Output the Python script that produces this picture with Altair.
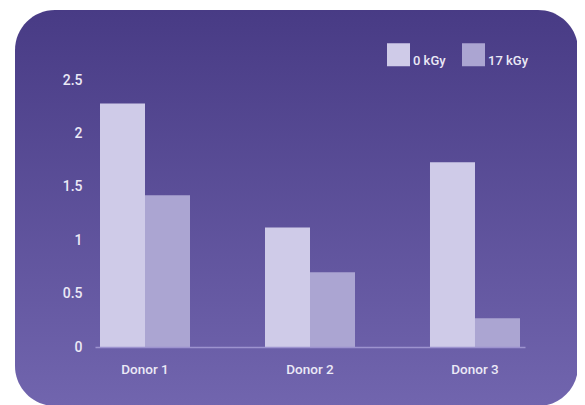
import altair as alt
import pandas as pd

donors = ["Donor 1", "Donor 2", "Donor 3"]
doses = ["0 kGy", "17 kGy"]
values_0kgy = [2.28, 1.12, 1.73]
values_17kgy = [1.42, 0.70, 0.27]
bar_colors = ["#cfcbe8", "#aba5d2"]
y_ticks = [0, 0.5, 1, 1.5, 2, 2.5]

rows = []
for i, d in enumerate(donors):
    rows.append({"donor": d, "dose": doses[0], "value": values_0kgy[i]})
    rows.append({"donor": d, "dose": doses[1], "value": values_17kgy[i]})
df = pd.DataFrame(rows)

FONT = "Roboto"
TXT = "#ebe9f6"

gradient = alt.Gradient(
    gradient="linear",
    stops=[alt.GradientStop(color="#483b85", offset=0),
           alt.GradientStop(color="#7165ae", offset=1)],
    x1=0, x2=0, y1=0, y2=1,
)

bg = alt.Chart(pd.DataFrame({"a": [0]})).mark_rect(
    fill=gradient, cornerRadius=40, clip=False
).encode(
    x=alt.value(-80), x2=alt.value(483), y=alt.value(-70), y2=alt.value(326)
)

bars = alt.Chart(df).mark_bar(clip=False).encode(
    x=alt.X("donor:N", sort=donors, title=None,
            scale=alt.Scale(paddingInner=0.4545, paddingOuter=0.0303),
            axis=alt.Axis(labelAngle=0, ticks=False, domain=True,
                          domainColor="#9d93cf", domainWidth=1.5,
                          labelFont=FONT, labelFontSize=13.5, labelFontWeight=500,
                          labelColor=TXT, labelPadding=15, grid=False,
                          zindex=2)),
    xOffset=alt.XOffset("dose:N", sort=doses,
                        scale=alt.Scale(paddingInner=0, paddingOuter=0)),
    y=alt.Y("value:Q", title=None,
            scale=alt.Scale(domain=[0, 2.5], nice=False, zero=True),
            axis=alt.Axis(values=y_ticks, format=".1~f", ticks=False,
                          domain=False, grid=False, labelFont=FONT,
                          labelFontSize=14, labelFontWeight=500,
                          labelColor=TXT, labelPadding=13, zindex=2)),
    color=alt.Color("dose:N", sort=doses,
                    scale=alt.Scale(domain=doses, range=bar_colors),
                    legend=alt.Legend(title=None, orient="none",
                                      direction="horizontal",
                                      legendX=292, legendY=-37,
                                      symbolType="square", symbolSize=529,
                                      symbolStrokeWidth=0, symbolOpacity=1,
                                      labelFont=FONT, labelFontSize=13,
                                      labelFontWeight=500, labelColor=TXT,
                                      labelOffset=3, labelBaseline="top",
                                      columnPadding=16, padding=0, zindex=2)),
)

chart = alt.layer(bg, bars).properties(
    width=430, height=267,
    autosize=alt.AutoSizeParams(type="none"),
    padding={"left": 87, "top": 72, "right": 52, "bottom": 58},
    background="white",
).configure_view(stroke=None)

chart.save("out.html", embed_options={"renderer": "svg", "actions": False})
